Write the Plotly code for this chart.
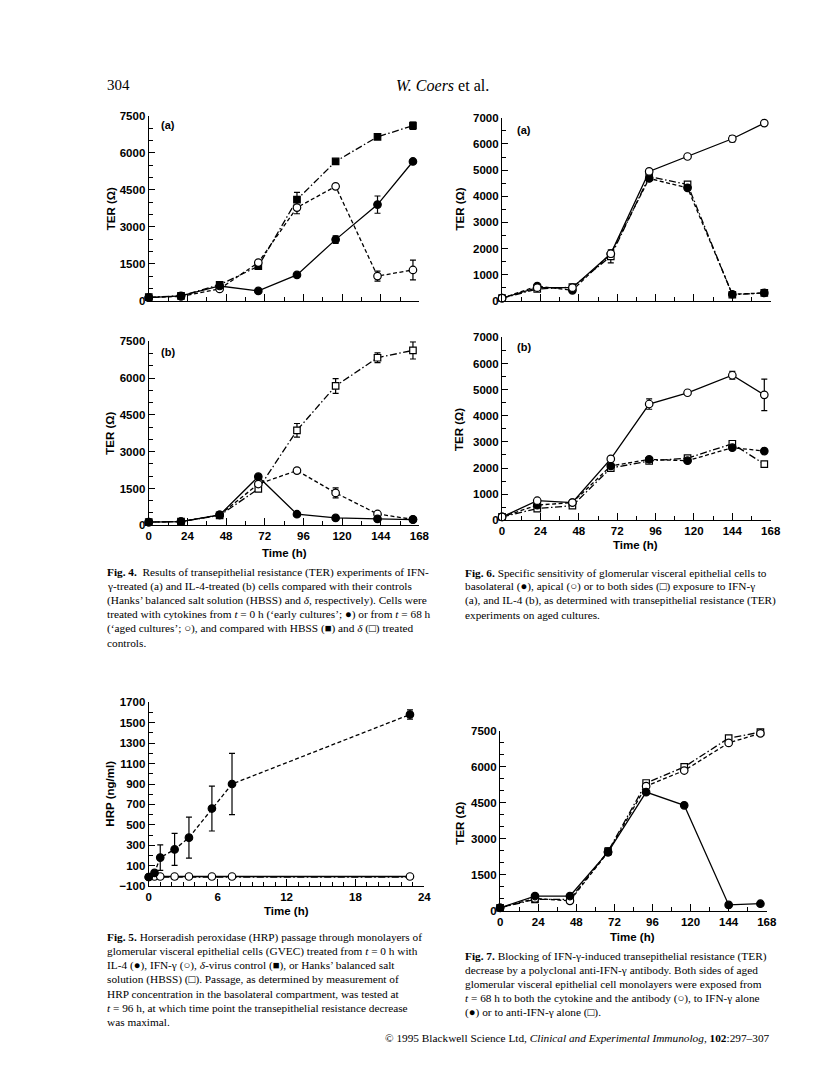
import plotly.graph_objects as go

# ---------------- data ----------------
time_fig4 = [0, 20, 44, 68, 92, 116, 142, 164]
f4a_hbss = [150, 200, 650, 1400, 4100, 5650, 6650, 7100]
f4a_hbss_err = [0, 0, 0, 0, 300, 0, 0, 150]
f4a_early = [130, 200, 600, 400, 1050, 2480, 3900, 5650]
f4a_early_err = [0, 0, 0, 0, 0, 150, 350, 0]
f4a_aged = [130, 180, 480, 1550, 3780, 4640, 1000, 1250]
f4a_aged_err = [0, 0, 0, 0, 250, 0, 200, 400]

f4b_delta = [130, 150, 400, 1480, 3870, 5680, 6830, 7130]
f4b_delta_err = [0, 0, 0, 0, 280, 300, 200, 350]
f4b_early = [130, 150, 420, 1980, 450, 300, 260, 230]
f4b_aged = [130, 150, 420, 1680, 2230, 1320, 460, 240]
f4b_aged_err = [0, 0, 0, 0, 0, 200, 0, 0]

time_fig6 = [0, 22, 44, 68, 92, 116, 144, 164]
f6a_baso = [100, 560, 400, 1800, 4680, 4320, 250, 300]
f6a_apical = [100, 500, 500, 1800, 4950, 5520, 6200, 6800]
f6a_apical_err = [0, 0, 0, 0, 0, 0, 120, 0]
f6a_both = [100, 450, 520, 1700, 4750, 4450, 230, 300]
f6a_both_err = [0, 0, 0, 250, 0, 0, 0, 0]

f6b_baso = [130, 580, 680, 2080, 2330, 2280, 2780, 2650]
f6b_apical = [130, 750, 680, 2350, 4450, 4880, 5550, 4800]
f6b_apical_err = [0, 0, 0, 0, 200, 0, 150, 600]
f6b_both = [130, 450, 560, 2000, 2270, 2380, 2930, 2150]

time_fig5 = [0, 0.5, 1, 2.25, 3.5, 5.5, 7.25, 22.75]
hrp_il4 = [-10, 30, 180, 260, 375, 660, 900, 1580]
hrp_il4_err = [0, 0, 125, 157, 200, 220, 300, 45]
hrp_ifn = [-10, -5, -5, -5, -5, -5, -5, -5]
hrp_delta = [-10, -8, -8, -8, -8, -8, -8, -8]
hrp_hbss = [-10, -8, -8, -8, -8, -8, -8, -8]

time_fig7 = [0, 22, 44, 68, 92, 116, 144, 164]
f7_ifn = [130, 620, 620, 2450, 4950, 4400, 250, 300]
f7_both = [130, 520, 420, 2450, 5200, 5850, 7000, 7400]
f7_anti = [130, 480, 480, 2480, 5330, 6000, 7200, 7450]
f7_anti_err = [0, 0, 0, 150, 0, 0, 0, 0]

ticks_168 = [0, 24, 48, 72, 96, 120, 144, 168]
ticks_7500 = [0, 1500, 3000, 4500, 6000, 7500]
ticks_7000 = [0, 1000, 2000, 3000, 4000, 5000, 6000, 7000]
ticks_hrp = [-100, 100, 300, 500, 700, 900, 1100, 1300, 1500, 1700]
ticks_hrp_text = ["\u2212100", "100", "300", "500", "700", "900", "1100", "1300", "1500", "1700"]
ticks_24 = [0, 6, 12, 18, 24]

# ---------------- layout helpers ----------------
W, H = 816, 1079
def fx(x): return x / W
def fy(y): return 1 - y / H

SANS = "Liberation Sans"
SERIF = "Liberation Serif"
DASH = "4px,2.5px"
DASHDOT = "7px,2.5px,1.5px,2.5px"

fig = go.Figure()

panels = {
    # name: (x0, x1, ytop, ybot, xrange, yrange)
    "1": (140, 415, 103, 290, [0, 168], [0, 7500]),
    "2": (140, 415, 331, 517, [0, 168], [0, 7500]),
    "3": (499, 772, 105, 290, [0, 168], [0, 7000]),
    "4": (499, 772, 327, 512, [0, 168], [0, 7000]),
    "5": (140, 420, 696, 882, [0, 24], [-100, 1700]),
    "6": (497, 768, 725, 907, [0, 168], [0, 7500]),
}

tickfont = dict(family=SANS, size=11.5, color="black", weight="bold")
for k, (x0, x1, ytop, ybot, xr, yr) in panels.items():
    xname = "xaxis" if k == "1" else "xaxis" + k
    yname = "yaxis" if k == "1" else "yaxis" + k
    show_x = k in ("2", "4", "5", "6")
    minor_common = dict(ticks="inside", ticklen=4, tickwidth=1.1, tickcolor="black")
    if k == "5":
        xtk = dict(tickvals=ticks_24, ticktext=[str(v) for v in ticks_24],
                   minor=dict(dtick=1, tick0=0, **minor_common))
        ytk = dict(tickvals=ticks_hrp, ticktext=ticks_hrp_text,
                   minor=dict(dtick=100, tick0=-100, **minor_common))
    else:
        xtk = dict(tickvals=ticks_168, ticktext=[str(v) for v in ticks_168],
                   minor=dict(dtick=12, tick0=0, **minor_common))
        yv = ticks_7000 if yr[1] == 7000 else ticks_7500
        ytk = dict(tickvals=yv, ticktext=[str(v) for v in yv],
                   minor=dict(dtick=500, tick0=0, **minor_common))
    fig.update_layout(**{
        xname: dict(domain=[fx(x0), fx(x1)], range=xr, anchor="y" if k == "1" else "y" + k,
                    showline=True, linecolor="black", linewidth=1.3, mirror=False,
                    ticks="inside", ticklen=7, tickwidth=1.2, tickcolor="black",
                    showticklabels=show_x, tickfont=tickfont, showgrid=False, zeroline=False,
                    fixedrange=True, **xtk),
        yname: dict(domain=[fy(ybot), fy(ytop)], range=yr, anchor="x" if k == "1" else "x" + k,
                    showline=True, linecolor="black", linewidth=1.3,
                    ticks="inside", ticklen=6, tickwidth=1.2, tickcolor="black",
                    showticklabels=True, tickfont=tickfont, showgrid=False, zeroline=False,
                    fixedrange=True, **ytk),
    })


def add(k, x, y, symbol, filled, dash, err=None, size=7.5):
    xa = "x" if k == "1" else "x" + k
    ya = "y" if k == "1" else "y" + k
    tr = dict(x=x, y=y, xaxis=xa, yaxis=ya, mode="lines+markers", cliponaxis=False,
              showlegend=False,
              line=dict(color="black", width=1.3, dash=dash),
              marker=dict(symbol=symbol, size=size, color="black" if filled else "white",
                          line=dict(color="black", width=1.2)))
    if err is not None:
        tr["error_y"] = dict(type="data", array=err, visible=True, color="black",
                             thickness=1.2, width=3)
    fig.add_trace(go.Scatter(**tr))

# Fig 4a
add("1", time_fig4, f4a_hbss, "square", True, DASHDOT, f4a_hbss_err, 6.5)
add("1", time_fig4, f4a_aged, "circle", False, DASH, f4a_aged_err)
add("1", time_fig4, f4a_early, "circle", True, "solid", f4a_early_err)
# Fig 4b
add("2", time_fig4, f4b_delta, "square", False, DASHDOT, f4b_delta_err, 6.5)
add("2", time_fig4, f4b_aged, "circle", False, DASH, f4b_aged_err)
add("2", time_fig4, f4b_early, "circle", True, "solid")
# Fig 6a
add("3", time_fig6, f6a_both, "square", False, DASHDOT, f6a_both_err, 6.5)
add("3", time_fig6, f6a_baso, "circle", True, DASH)
add("3", time_fig6, f6a_apical, "circle", False, "solid", f6a_apical_err)
# Fig 6b
add("4", time_fig6, f6b_both, "square", False, DASHDOT, None, 6.5)
add("4", time_fig6, f6b_baso, "circle", True, DASH)
add("4", time_fig6, f6b_apical, "circle", False, "solid", f6b_apical_err)
# Fig 5
add("5", time_fig5, hrp_delta, "square", True, DASHDOT, None, 4.5)
add("5", time_fig5, hrp_hbss, "square", False, DASHDOT, None, 4.5)
add("5", time_fig5, hrp_ifn, "circle", False, "solid")
add("5", time_fig5, hrp_il4, "circle", True, DASH, hrp_il4_err)
# Fig 7
add("6", time_fig7, f7_anti, "square", False, DASHDOT, f7_anti_err, 6.5)
add("6", time_fig7, f7_both, "circle", False, DASH)
add("6", time_fig7, f7_ifn, "circle", True, "solid")

ann = []
def text(x, y, s, size=11.5, family=SANS, anchor="left", angle=0, bold=False):
    ann.append(dict(x=fx(x), y=fy(y), xref="paper", yref="paper", text=s, showarrow=False,
                    xanchor=anchor, yanchor="middle", textangle=angle,
                    font=dict(family=family, size=size, color="black",
                              weight="bold" if bold else "normal")))

# axis titles
text(101, 197, "TER (\u03a9)", anchor="center", angle=-90, bold=True)
text(101, 424, "TER (\u03a9)", anchor="center", angle=-90, bold=True)
text(456, 197, "TER (\u03a9)", anchor="center", angle=-90, bold=True)
text(456, 420, "TER (\u03a9)", anchor="center", angle=-90, bold=True)
text(101, 788, "HRP (ng/ml)", anchor="center", angle=-90, bold=True)
text(456, 818, "TER (\u03a9)", anchor="center", angle=-90, bold=True)
text(278, 545, "Time (h)", anchor="center", bold=True)
text(635, 537, "Time (h)", anchor="center", bold=True)
text(280, 907, "Time (h)", anchor="center", bold=True)
text(632, 933, "Time (h)", anchor="center", bold=True)
# panel labels
text(150, 112, "(a)", size=11, bold=True)
text(150, 342, "(b)", size=11, bold=True)
text(512, 117, "(a)", size=11, bold=True)
text(512, 337, "(b)", size=11, bold=True)

# header / footer
text(96, 72, "304", size=15, family=SERIF)
text(438, 72, "<i>W. Coers</i> et al.", size=16, family=SERIF, anchor="center")
text(773, 1036, "\u00a9 1995 Blackwell Science Ltd, <i>Clinical and Experimental Immunolog</i>, <b>102</b>:297\u2013307",
     size=11.3, family=SERIF, anchor="right")

cap4 = [
    "<b>Fig. 4.</b>  Results of transepithelial resistance (TER) experiments of IFN-",
    "\u03b3-treated (a) and IL-4-treated (b) cells compared with their controls",
    "(Hanks\u2019 balanced salt solution (HBSS) and <i>\u03b4</i>, respectively). Cells were",
    "treated with cytokines from <i>t</i> = 0 h (\u2018early cultures\u2019; \u25cf) or from <i>t</i> = 68 h",
    "(\u2018aged cultures\u2019; \u25cb), and compared with HBSS (\u25a0) and <i>\u03b4</i> (\u25a1) treated",
    "controls.",
]
cap6 = [
    "<b>Fig. 6.</b> Specific sensitivity of glomerular visceral epithelial cells to",
    "basolateral (\u25cf), apical (\u25cb) or to both sides (\u25a1) exposure to IFN-\u03b3",
    "(a), and IL-4 (b), as determined with transepithelial resistance (TER)",
    "experiments on aged cultures.",
]
cap5 = [
    "<b>Fig. 5.</b> Horseradish peroxidase (HRP) passage through monolayers of",
    "glomerular visceral epithelial cells (GVEC) treated from <i>t</i> = 0 h with",
    "IL-4 (\u25cf), IFN-\u03b3 (\u25cb), <i>\u03b4</i>-virus control (\u25a0), or Hanks\u2019 balanced salt",
    "solution (HBSS) (\u25a1). Passage, as determined by measurement of",
    "HRP concentration in the basolateral compartment, was tested at",
    "<i>t</i> = 96 h, at which time point the transepithelial resistance decrease",
    "was maximal.",
]
cap7 = [
    "<b>Fig. 7.</b> Blocking of IFN-\u03b3-induced transepithelial resistance (TER)",
    "decrease by a polyclonal anti-IFN-\u03b3 antibody. Both sides of aged",
    "glomerular visceral epithelial cell monolayers were exposed from",
    "<i>t</i> = 68 h to both the cytokine and the antibody (\u25cb), to IFN-\u03b3 alone",
    "(\u25cf) or to anti-IFN-\u03b3 alone (\u25a1).",
]
LS = 14.2
CS = 11.3
for i, s in enumerate(cap4):
    text(96, 565 + LS * i, s, size=CS, family=SERIF)
for i, s in enumerate(cap6):
    text(459, 565 + LS * i, s, size=CS, family=SERIF)
for i, s in enumerate(cap5):
    text(96, 934 + LS * i, s, size=CS, family=SERIF)
for i, s in enumerate(cap7):
    text(459, 953 + LS * i, s, size=CS, family=SERIF)

fig.update_layout(width=W, height=H, margin=dict(l=0, r=0, t=0, b=0),
                  paper_bgcolor="white", plot_bgcolor="white",
                  annotations=ann, showlegend=False)
fig.write_html("out.html")
